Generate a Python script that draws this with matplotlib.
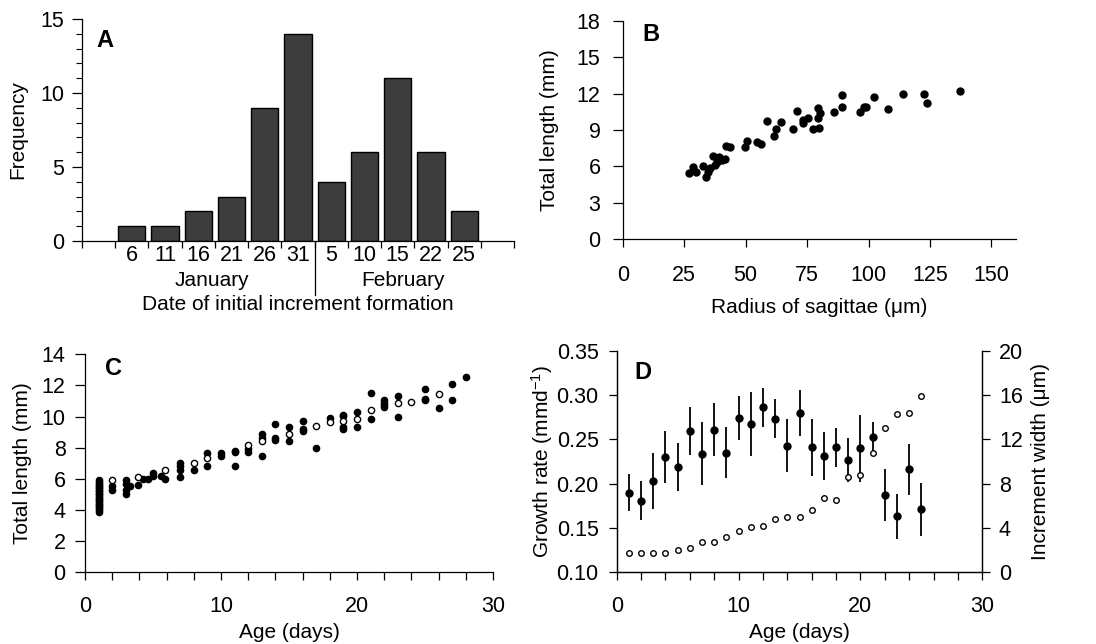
import numpy as np
import matplotlib
matplotlib.use("Agg")
import matplotlib.pyplot as plt
import matplotlib.transforms as mtransforms
from matplotlib.ticker import MultipleLocator, FuncFormatter

plt.rcParams['font.family'] = ['Liberation Sans', 'DejaVu Sans']
plt.rcParams['font.size'] = 15
plt.rcParams['xtick.labelsize'] = 15.5
plt.rcParams['ytick.labelsize'] = 15.5
plt.rcParams['axes.linewidth'] = 0.9
plt.rcParams['mathtext.default'] = 'regular'

# ---------------- Panel A data ----------------
a_labels = ['6', '11', '16', '21', '26', '31', '5', '10', '15', '22', '25']
a_freq = [1, 1, 2, 3, 9, 14, 4, 6, 11, 6, 2]
a_months = ['January', 'February']

# ---------------- Panel B data ----------------
b_radius = [27.1, 28.5, 29.8, 32.5, 33.9, 34.8, 35.5, 36.6, 37.5, 38.5, 39.3, 40.2,
            41.6, 42.0, 43.6, 49.7, 50.4, 54.7, 56.2, 58.9, 61.5, 62.3, 64.3, 69.1,
            71.1, 73.2, 73.4, 75.4, 77.5, 79.5, 79.5, 79.7, 80.2, 85.9, 89.3, 89.3,
            96.7, 98.2, 98.9, 102.3, 108.0, 114.1, 122.5, 123.8, 137.1]
b_length = [5.42, 5.92, 5.51, 6.03, 5.09, 5.56, 5.84, 6.88, 6.11, 6.38, 6.74, 6.52,
            6.58, 7.68, 7.57, 7.57, 8.12, 7.98, 7.82, 9.74, 8.50, 9.06, 9.63, 9.06,
            10.57, 9.55, 9.83, 10.02, 9.06, 10.85, 9.97, 9.14, 10.38, 10.52, 11.89, 10.93,
            10.52, 10.90, 10.90, 11.75, 10.73, 11.97, 11.95, 11.26, 12.22]

# ---------------- Panel C data ----------------
c_age_filled = [1]*21 + [2, 2, 3, 3, 3, 3, 3.3, 3.9, 4.3, 4.6, 5.0, 5.0, 5.6, 5.9,
                7, 7, 7, 7, 8, 9, 9, 10, 10, 11, 11, 11, 12, 12, 13, 13, 13,
                14, 14, 14, 15, 15, 16, 16, 16, 17, 18, 19, 19, 19, 19, 20, 20,
                21, 21, 22, 22, 22, 22, 23, 23, 25, 25, 25, 26, 27, 27, 28]
c_len_filled = [3.9, 4.0, 4.1, 4.2, 4.3, 4.4, 4.5, 4.6, 4.7, 4.8, 4.9, 5.0, 5.1, 5.2,
                5.3, 5.4, 5.5, 5.6, 5.7, 5.8, 5.95,
                5.55, 5.3, 5.9, 5.7, 5.3, 5.0, 5.55, 5.6, 6.0, 6.0, 6.35, 6.2, 6.2, 6.0,
                7.0, 6.8, 6.6, 6.1, 6.55, 7.65, 6.8, 7.65, 7.5, 7.75, 7.8, 6.8, 7.9, 7.7,
                8.85, 8.65, 7.45, 9.55, 8.6, 8.5, 9.3, 8.45, 9.7, 9.2, 9.1, 8.0, 9.9,
                10.1, 10.05, 9.3, 9.2, 10.3, 9.3, 11.5, 9.85, 11.05, 10.9, 10.75, 10.6,
                11.35, 10.0, 11.75, 11.15, 11.05, 10.55, 12.1, 11.05, 12.55]
c_age_open = [2, 3.9, 5.9, 8, 9, 12, 13, 15, 17, 18, 19, 20, 21, 23, 24, 26]
c_len_open = [5.9, 6.15, 6.55, 7.0, 7.35, 8.15, 8.45, 8.85, 9.4, 9.65, 9.7, 9.85,
              10.45, 10.9, 10.95, 11.45]

# ---------------- Panel D data ----------------
d_age = list(range(1, 26))
d_growth = [0.190, 0.181, 0.203, 0.230, 0.219, 0.259, 0.234, 0.261, 0.235, 0.274,
            0.267, 0.286, 0.273, 0.243, 0.280, 0.241, 0.231, 0.241, 0.227, 0.240,
            0.253, 0.187, 0.163, 0.216, 0.171]
d_err = [0.021, 0.022, 0.032, 0.029, 0.027, 0.027, 0.036, 0.030, 0.029, 0.025,
         0.036, 0.022, 0.022, 0.030, 0.026, 0.032, 0.027, 0.022, 0.025, 0.038,
         0.016, 0.029, 0.025, 0.029, 0.030]
d_incr = [1.71, 1.71, 1.71, 1.71, 2.02, 2.23, 2.71, 2.71, 3.16, 3.73, 4.06, 4.21,
          4.81, 4.96, 4.96, 5.62, 6.68, 6.53, 8.63, 8.78, 10.74, 13.05, 14.26, 14.35,
          15.91]

W, H = 1096, 644
fig = plt.figure(figsize=(W / 100, H / 100), dpi=100)


def rect(l, r, b, t):
    return [l / W, 1 - b / H, (r - l) / W, (b - t) / H]


def clean(ax):
    ax.spines['top'].set_visible(False)
    ax.spines['right'].set_visible(False)


# ---------------- Panel A ----------------
axA = fig.add_axes(rect(82, 514, 241, 19))
clean(axA)
pos = np.arange(len(a_freq)) + 1.5
axA.bar(pos, a_freq, width=0.82, color='#3d3d3d', edgecolor='black', linewidth=1.0)
axA.set_xlim(0, 13)
axA.set_ylim(0, 15)
axA.set_xticks(np.arange(0, 14))
axA.set_xticklabels([])
axA.set_xticks(pos, minor=True)
axA.set_xticklabels(a_labels, minor=True)
axA.tick_params(axis='x', which='major', direction='out', length=5, width=0.9)
axA.tick_params(axis='x', which='minor', length=0, pad=3)
axA.set_yticks([0, 5, 10, 15])
axA.yaxis.set_minor_locator(MultipleLocator(1))
axA.tick_params(axis='y', which='major', direction='out', length=7, width=0.9, pad=6)
axA.tick_params(axis='y', which='minor', direction='out', length=4, width=0.8)
trA = mtransforms.blended_transform_factory(axA.transData, axA.transAxes)
axA.plot([7, 7], [0, -0.245], color='black', lw=0.9, transform=trA, clip_on=False)
axA.text(3.9, -0.18, a_months[0], transform=trA, ha='center', va='center')
axA.text(9.65, -0.18, a_months[1], transform=trA, ha='center', va='center')
axA.text(0.5, -0.288, 'Date of initial increment formation', transform=axA.transAxes,
         ha='center', va='center')
axA.set_ylabel('Frequency')
axA.yaxis.set_label_coords(-0.148, 0.5)
axA.yaxis.label.set_va('center')
axA.text(0.053, 0.905, 'A', transform=axA.transAxes, fontsize=17, fontweight='bold',
         ha='center', va='center')

# ---------------- Panel B ----------------
axB = fig.add_axes(rect(622.7, 1016, 239, 21))
clean(axB)
axB.plot(b_radius, b_length, 'o', color='black', markersize=5, linestyle='none')
axB.set_xlim(0, 160)
axB.set_ylim(0, 18)
axB.set_xticks([0, 25, 50, 75, 100, 125, 150])
axB.set_yticks([0, 3, 6, 9, 12, 15, 18])
axB.tick_params(axis='x', direction='out', length=6, width=0.9, pad=13)
axB.tick_params(axis='y', direction='out', length=7, width=0.9, pad=9)
axB.set_xlabel('Radius of sagittae (\u03bcm)')
axB.xaxis.set_label_coords(0.5, -0.312)
axB.xaxis.label.set_va('center')
axB.set_ylabel('Total length (mm)')
axB.yaxis.set_label_coords(-0.187, 0.5)
axB.yaxis.label.set_va('center')
axB.text(0.072, 0.936, 'B', transform=axB.transAxes, fontsize=17, fontweight='bold',
         ha='center', va='center')

# ---------------- Panel C ----------------
axC = fig.add_axes(rect(85, 493, 572.3, 354.3))
clean(axC)
axC.plot(c_age_filled, c_len_filled, 'o', color='black', markersize=4.5, linestyle='none')
axC.plot(c_age_open, c_len_open, 'o', markerfacecolor='white', markeredgecolor='black',
         markeredgewidth=1.0, markersize=4.5, linestyle='none')
axC.set_xlim(0, 30)
axC.set_ylim(0, 14)
axC.set_xticks(np.arange(0, 31, 2))
axC.xaxis.set_major_formatter(FuncFormatter(lambda v, p: f'{int(v)}' if int(v) % 10 == 0 else ''))
axC.set_yticks(np.arange(0, 15, 2))
axC.tick_params(axis='x', direction='out', length=6, width=0.9, pad=11)
axC.tick_params(axis='y', direction='out', length=7, width=0.9, pad=7)
axC.set_xlabel('Age (days)')
axC.xaxis.set_label_coords(0.5, -0.275)
axC.xaxis.label.set_va('center')
axC.set_ylabel('Total length (mm)')
axC.yaxis.set_label_coords(-0.154, 0.5)
axC.yaxis.label.set_va('center')
axC.text(0.071, 0.937, 'C', transform=axC.transAxes, fontsize=17, fontweight='bold',
         ha='center', va='center')

# ---------------- Panel D ----------------
axD = fig.add_axes(rect(616.7, 982.3, 572.3, 350.7))
axD.spines['top'].set_visible(False)
axD.errorbar(d_age, d_growth, yerr=d_err, fmt='o', color='black', markersize=5,
             elinewidth=1.3, capsize=0, zorder=3)
axD.set_xlim(0, 30)
axD.set_ylim(0.10, 0.35)
axD.set_xticks(np.arange(0, 31, 2))
axD.xaxis.set_major_formatter(FuncFormatter(lambda v, p: f'{int(v)}' if int(v) % 10 == 0 else ''))
axD.set_yticks([0.10, 0.15, 0.20, 0.25, 0.30, 0.35])
axD.yaxis.set_major_formatter(FuncFormatter(lambda v, p: f'{v:.2f}'))
axD.tick_params(axis='x', direction='out', length=6, width=0.9, pad=11)
axD.tick_params(axis='y', direction='out', length=6, width=0.9, pad=7)
axD.set_xlabel('Age (days)')
axD.xaxis.set_label_coords(0.5, -0.27)
axD.xaxis.label.set_va('center')
axD.set_ylabel('Growth rate (mmd$^{-1}$)')
axD.yaxis.set_label_coords(-0.205, 0.5)
axD.yaxis.label.set_va('center')
axD.text(0.073, 0.903, 'D', transform=axD.transAxes, fontsize=17, fontweight='bold',
         ha='center', va='center')

axD2 = axD.twinx()
axD2.spines['top'].set_visible(False)
axD2.plot(d_age, d_incr, 'o', markerfacecolor='white', markeredgecolor='black',
          markeredgewidth=1.0, markersize=4, linestyle='none')
axD2.set_ylim(0, 20)
axD2.set_yticks([0, 4, 8, 12, 16, 20])
axD2.tick_params(axis='y', direction='out', length=6, width=0.9, pad=6)
axD2.set_ylabel('Increment width (\u03bcm)', rotation=90)
axD2.yaxis.set_label_coords(1.16, 0.5)
axD2.yaxis.label.set_va('center')

fig.savefig('out.png', dpi=100)
